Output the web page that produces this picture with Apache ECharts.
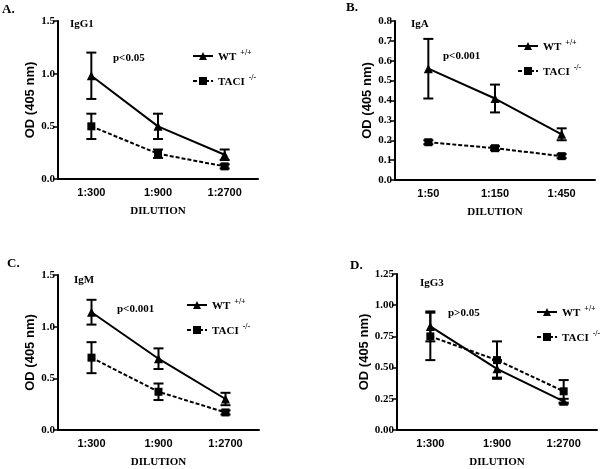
<!DOCTYPE html>
<html><head><meta charset="utf-8">
<script src="https://cdn.jsdelivr.net/npm/echarts@6/dist/echarts.min.js"></script>
<style>html,body{margin:0;padding:0;background:#fff}#c{width:600px;height:469px}</style>
</head><body><div id="c"></div>
<script>
// ---- data ----
const catsA = ['1:300', '1:900', '1:2700'];
const catsB = ['1:50', '1:150', '1:450'];
const catsC = ['1:300', '1:900', '1:2700'];
const catsD = ['1:300', '1:900', '1:2700'];

const wtA = [0.98, 0.50, 0.23];   const wtErrA = [0.22, 0.12, 0.05];
const taciA = [0.50, 0.24, 0.12]; const taciErrA = [0.12, 0.04, 0.02];

const wtB = [0.56, 0.41, 0.23];   const wtErrB = [0.15, 0.07, 0.03];
const taciB = [0.19, 0.16, 0.12]; const taciErrB = [0.01, 0.01, 0.01];

const wtC = [1.14, 0.69, 0.30];   const wtErrC = [0.12, 0.10, 0.06];
const taciC = [0.70, 0.37, 0.17]; const taciErrC = [0.15, 0.08, 0.02];

const wtD = [0.83, 0.49, 0.23];   const wtErrD = [0.12, 0.07, 0.02];
const taciD = [0.75, 0.56, 0.31]; const taciErrD = [0.19, 0.15, 0.09];

const yMaxs = [1.5, 0.8, 1.5, 1.25];
const yIntervals = [0.5, 0.1, 0.5, 0.25];
const yDecimals = [1, 1, 1, 2];
const panelLetters = ['A.', 'B.', 'C.', 'D.'];
const isotypes = ['IgG1', 'IgA', 'IgM', 'IgG3'];
const pLabels = ['p<0.05', 'p<0.001', 'p<0.001', 'p>0.05'];

// ---- layout ----
const SERIF = '"Liberation Serif", "Times New Roman", serif';
const SANS = '"Liberation Sans", Arial, sans-serif';
const grids = [
  {left: 58, top: 21, width: 200, height: 158},
  {left: 395, top: 21, width: 200, height: 159},
  {left: 58, top: 275, width: 201, height: 157},
  {left: 397, top: 274, width: 200, height: 158}
];
const legendPos = [
  {left: 192, top: 49},
  {left: 517, top: 39},
  {left: 186, top: 298},
  {left: 536, top: 305}
];
const letterPos = [[2, 3], [346, 1], [7, 257], [350, 259]];
const isoPos = [[70, 19], [411, 19], [74, 275], [420, 278]];
const pPos = [[113, 53], [443, 51], [117, 304], [448, 308]];

const cats = [catsA, catsB, catsC, catsD];
const wts = [wtA, wtB, wtC, wtD];
const wtErrs = [wtErrA, wtErrB, wtErrC, wtErrD];
const tacis = [taciA, taciB, taciC, taciD];
const taciErrs = [taciErrA, taciErrB, taciErrC, taciErrD];

function errSeries(idx, vals, errs) {
  return {
    type: 'custom', xAxisIndex: idx, yAxisIndex: idx, silent: true, z: 3,
    data: vals.map((v, i) => [i, v - errs[i], v + errs[i]]),
    encode: {x: 0, y: [1, 2]},
    renderItem: (params, api) => {
      const lo = api.coord([api.value(0), api.value(1)]);
      const hi = api.coord([api.value(0), api.value(2)]);
      const w = 5;
      const st = {stroke: '#000', lineWidth: 2};
      return {type: 'group', children: [
        {type: 'line', shape: {x1: lo[0], y1: lo[1], x2: hi[0], y2: hi[1]}, style: st},
        {type: 'line', shape: {x1: lo[0] - w, y1: lo[1], x2: lo[0] + w, y2: lo[1]}, style: st},
        {type: 'line', shape: {x1: hi[0] - w, y1: hi[1], x2: hi[0] + w, y2: hi[1]}, style: st}
      ]};
    }
  };
}

const xAxes = [], yAxes = [], series = [], legends = [], graphics = [];
for (let k = 0; k < 4; k++) {
  xAxes.push({
    type: 'category', gridIndex: k, data: cats[k], boundaryGap: true,
    axisLine: {lineStyle: {color: '#000', width: 2}},
    axisTick: {alignWithLabel: true, length: 4, lineStyle: {color: '#000', width: 2}},
    axisLabel: {color: '#000', fontFamily: SANS, fontWeight: 'bold', fontSize: 11, margin: 8},
    name: 'DILUTION', nameLocation: 'middle', nameGap: 27,
    nameTextStyle: {color: '#000', fontFamily: SERIF, fontWeight: 'bold', fontSize: 11}
  });
  const dec = yDecimals[k];
  yAxes.push({
    type: 'value', gridIndex: k, min: 0, max: yMaxs[k], interval: yIntervals[k],
    splitLine: {show: false},
    axisLine: {show: true, lineStyle: {color: '#000', width: 2}},
    axisTick: {show: true, length: 5, lineStyle: {color: '#000', width: 1.5}},
    axisLabel: {color: '#000', fontFamily: SERIF, fontWeight: 'bold', fontSize: 11, margin: 3,
      formatter: v => v.toFixed(dec)},
    name: 'OD (405 nm)', nameLocation: 'middle', nameGap: 21, nameRotate: 90,
    nameTextStyle: {color: '#000', fontFamily: SANS, fontWeight: 'bold', fontSize: 13}
  });
  series.push({
    name: 'WT' + k, type: 'line', xAxisIndex: k, yAxisIndex: k, data: wts[k],
    symbol: 'triangle', symbolSize: 9, z: 4,
    lineStyle: {color: '#000', width: 2, type: 'solid'},
    itemStyle: {color: '#000'}
  });
  series.push({
    name: 'TACI' + k, type: 'line', xAxisIndex: k, yAxisIndex: k, data: tacis[k],
    symbol: 'rect', symbolSize: 8, z: 4,
    lineStyle: {color: '#000', width: 2, type: [4, 2]},
    itemStyle: {color: '#000'}
  });
  series.push(errSeries(k, wts[k], wtErrs[k]));
  series.push(errSeries(k, tacis[k], taciErrs[k]));
  legends.push({
    data: ['WT' + k, 'TACI' + k], orient: 'vertical',
    left: legendPos[k].left, top: legendPos[k].top,
    itemWidth: 20, itemHeight: 10, itemGap: 11, padding: 0,
    selectedMode: false,
    formatter: n => n.startsWith('WT') ? '{m|WT}{s|+/+}' : '{m|TACI}{s|-/-}',
    textStyle: {
      color: '#000',
      rich: {
        m: {fontFamily: SERIF, fontWeight: 'bold', fontSize: 11, lineHeight: 14, color: '#000', verticalAlign: 'bottom'},
        s: {fontFamily: SERIF, fontWeight: 'bold', fontSize: 8, lineHeight: 14, color: '#000', padding: [0, 0, 6, 4], verticalAlign: 'top'}
      }
    }
  });
  graphics.push({type: 'text', left: letterPos[k][0], top: letterPos[k][1],
    style: {text: panelLetters[k], fill: '#000', font: 'bold 13px ' + SERIF}});
  graphics.push({type: 'text', left: isoPos[k][0], top: isoPos[k][1],
    style: {text: isotypes[k], fill: '#000', font: 'bold 11px ' + SERIF}});
  graphics.push({type: 'text', left: pPos[k][0], top: pPos[k][1],
    style: {text: pLabels[k], fill: '#000', font: 'bold 11px ' + SERIF}});
}

const chart = echarts.init(document.getElementById('c'), null, {renderer: 'canvas'});
chart.setOption({
  backgroundColor: '#fff',
  animation: false,
  grid: grids,
  xAxis: xAxes,
  yAxis: yAxes,
  legend: legends,
  series: series,
  graphic: graphics
});
</script>
</body></html>
